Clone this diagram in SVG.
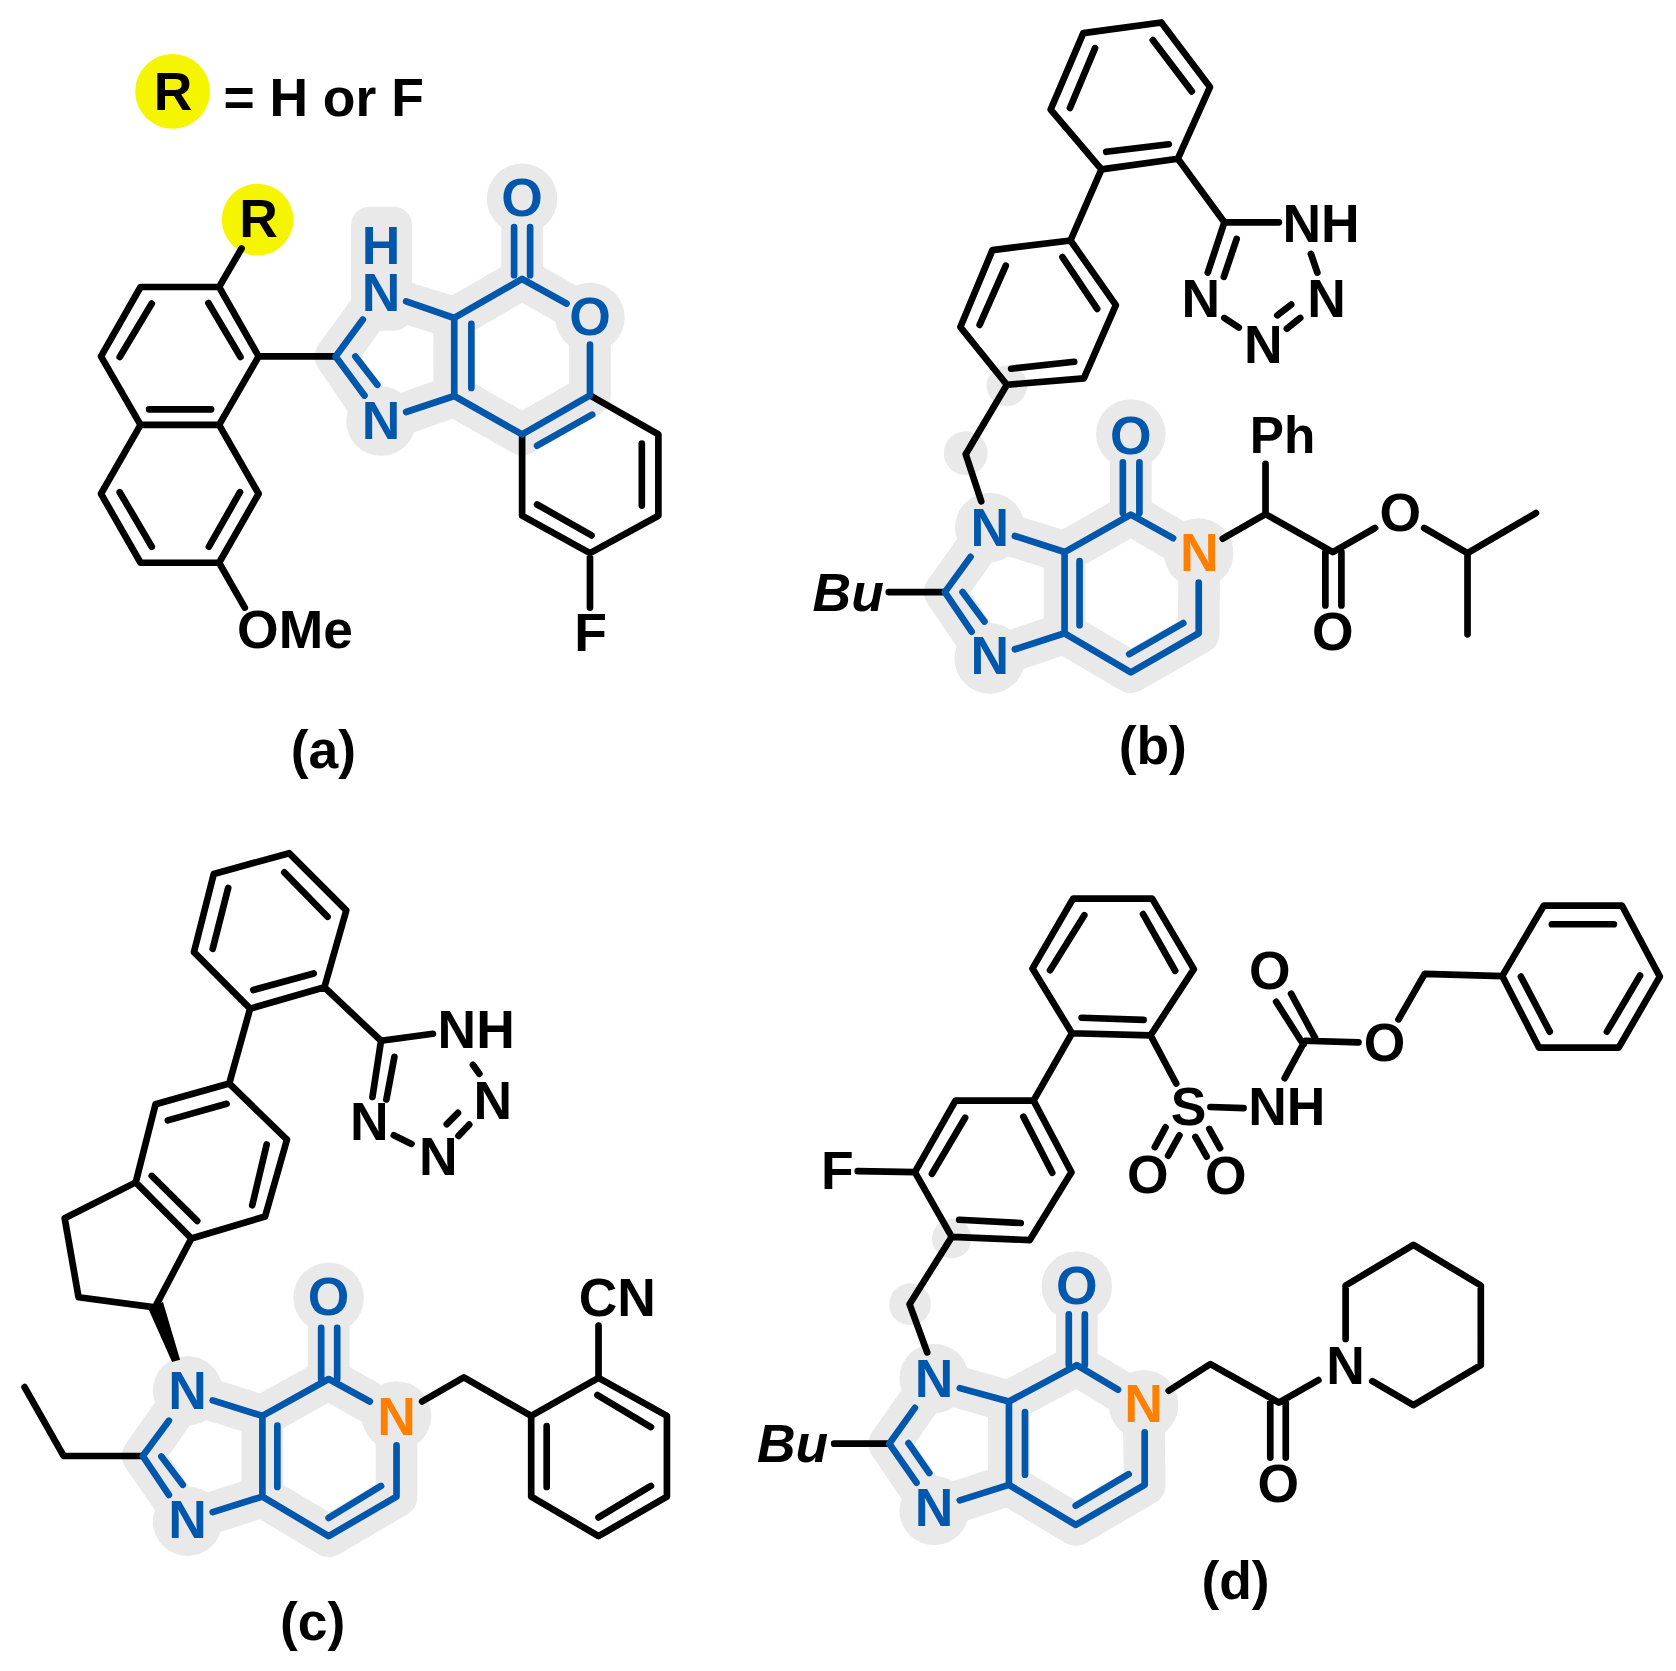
<svg xmlns="http://www.w3.org/2000/svg" width="1676" height="1671" viewBox="0 0 1676 1671">
<style>
.h{fill:none;stroke:#e9e9e9;stroke-width:78;stroke-linecap:round;stroke-linejoin:round}
.hc{fill:#e9e9e9}
.k,.u{fill:none;stroke-width:12.5;stroke-linecap:round;stroke-linejoin:round}
.k{stroke:#000}
.u{stroke:#0057ab}
text{font-family:"Liberation Sans",Arial,sans-serif;font-weight:700;font-size:100px;text-anchor:middle;fill:#000}
text.bl{fill:#0057ab}
text.or{fill:#ff8000}
text.it{font-style:italic}
</style>
<rect width="1676" height="1671" fill="#fff"/>

<g id="mol-a" transform="scale(0.5344)">
<g id="a-halo">
<path class="h" d="M628,667L712,552L850,595L977,522L1104,594L1104,740L977,813L850,741L712,790ZM850,595V741M977,372V522"/>
<circle class="hc" cx="977" cy="372" r="66"/><circle class="hc" cx="1104" cy="594" r="65"/><circle class="hc" cx="713" cy="788" r="65"/>
<rect class="hc" x="657" y="387" width="114" height="232" rx="34"/>
</g>
<circle cx="323" cy="171" r="70" fill="#f5f500"/><circle cx="482" cy="411" r="67" fill="#f5f500"/>
<g id="a-bonds">
<path class="k" d="M410,537L263,537L189,667L263,795L410,795L484,667ZM410,795L484,924L410,1053L263,1053L189,924L263,795M390,567L450,668M284,568L224,668M279,766H395M449,921L391,1023M284,1023L224,921M410,537L452,465M410,1053L458,1137M484,667H628M977,813V965L1104,1035L1232,965V813L1104,740M1005,944L1107,1002M1201,830V946M1104,1035V1137"/>
<path class="u" d="M679,598L628,667L682,740M665,667L706,720M760,564L850,595L850,741L760,771M882,606V726M850,595L977,522L1060,568M1104,645V740L977,813L850,741M1108,776L1005,834M962,425V515M992,425V515"/>
</g>
<text x="324" y="205">R</text>
<text x="418" y="217" style="text-anchor:start">= H or F</text>
<text x="484" y="444">R</text>
<text class="bl" x="713" y="494">H<tspan x="713" y="582">N</tspan></text><text class="bl" x="713" y="822">N</text>
<text class="bl" x="977" y="404">O</text><text class="bl" x="1104" y="627">O</text>
<text x="552" y="1213">OMe</text><text x="1105" y="1219">F</text>
<text x="605" y="1437">(a)</text>
</g>

<g id="mol-b" transform="translate(838,0) scale(0.5344)">
<g id="b-halo">
<path class="h" d="M200,1108L284,990L424,1033L548,963L676,1037L675,1185L548,1258L424,1185L284,1232ZM424,1033V1185M548,812V963"/>
<circle class="hc" cx="548" cy="812" r="65"/><circle class="hc" cx="284" cy="987" r="65"/><circle class="hc" cx="675" cy="1035" r="65"/><circle class="hc" cx="284" cy="1232" r="66"/>
<circle class="hc" cx="316" cy="722" r="38"/><circle class="hc" cx="239" cy="848" r="41"/>
</g>
<g id="b-bonds">
<path class="k" d="M459,62L605,42L696,163L636,297L493,317L398,205ZM481,90L434,202M589,75L662,171M619,270L502,284M493,317L435,450L289,468L229,612L316,720L460,708L520,571L435,450M314,497L265,608M420,481L485,578M442,677L324,690M636,297L723,416H825M723,416L692,510M746,447L722,518M723,595L750,613M822,590L848,570M840,615L865,595M885,475L897,510M316,720L239,850L268,938M95,1108H200M720,1008L800,962V868M800,962L926,1033L1005,988M1097,988L1178,1035L1306,960M1178,1035V1187M912,1033V1133M942,1033V1133"/>
<path class="u" d="M248,1042L200,1108L250,1182M233,1108L274,1163M331,1003L424,1033V1185L331,1215M452,1050V1170M424,1033L548,963L627,1007M424,1185L548,1258L675,1185V1090M545,1224L646,1166M533,865V960M564,865V960"/>
</g>
<text x="904" y="452">NH</text><text x="679" y="594">N</text><text x="796" y="680">N</text><text x="914" y="593">N</text>
<text x="832" y="847" style="font-size:96px">Ph</text>
<text class="bl" x="548" y="849">O</text><text class="bl" x="284" y="1022">N</text><text class="or" x="676" y="1069">N</text><text class="bl" x="284" y="1262">N</text>
<text x="1052" y="994">O</text><text x="926" y="1217">O</text>
<text class="it" x="19" y="1144">Bu</text>
<text x="589" y="1429">(b)</text>
</g>

<g id="mol-c" transform="translate(0,835) scale(0.5344)">
<g id="c-halo">
<path class="h" d="M267,1162L351,1043L491,1087L615,1018L742,1090L742,1238L615,1312L491,1238L351,1283ZM491,1087V1238M615,866V1018"/>
<circle class="hc" cx="615" cy="866" r="66"/><circle class="hc" cx="351" cy="1040" r="65"/><circle class="hc" cx="742" cy="1087" r="65"/><circle class="hc" cx="351" cy="1284" r="65"/>
</g>
<g id="c-bonds">
<path class="k" d="M400,73L541,34L648,141L607,285L468,325L363,219ZM427,99L398,213M532,70L613,153M587,259L474,290M468,325L429,465L291,504L254,650L358,755L496,714L537,570L429,465M424,503L314,534M499,579L472,693M369,722L284,638M254,650L121,717L147,865L290,884L358,755M607,285L713,385L810,372M713,385L697,490M738,415L723,495M737,562L770,578M836,541L857,520M858,563L878,542M885,430L897,447M46,1033L119,1162H267M790,1060L868,1015L994,1087M994,1087L1120,1016L1248,1087V1238L1120,1312L994,1238ZM1023,1106V1220M1118,1048L1218,1108M1218,1218L1120,1277M1120,1016V918"/>
<path d="M277,885L305,874L337,982L322,986Z" fill="#000"/>
<path class="u" d="M316,1096L267,1162L316,1235M302,1163L342,1216M398,1058L491,1087V1238L398,1267M519,1105V1220M491,1087L615,1018L692,1060M601,922V1018M631,922V1018M491,1238L615,1312L742,1238V1142M615,1278L713,1218"/>
</g>
<text x="891" y="399">NH</text><text x="691" y="570">N</text><text x="820" y="637">N</text><text x="922" y="531">N</text>
<text x="1155" y="900">CN</text>
<text class="bl" x="615" y="899">O</text><text class="bl" x="351" y="1075">N</text><text class="or" x="742" y="1122">N</text><text class="bl" x="351" y="1315">N</text>
<text x="585" y="1507">(c)</text>
</g>

<g id="mol-d" transform="translate(738,835) scale(0.5344)">
<g id="d-halo">
<path class="h" d="M283,1139L367,1020L507,1060L634,992L759,1068L761,1216L632,1291L507,1216L367,1262ZM507,1060V1216M634,845V992"/>
<circle class="hc" cx="634" cy="845" r="66"/><circle class="hc" cx="367" cy="1017" r="65"/><circle class="hc" cx="759" cy="1066" r="65"/><circle class="hc" cx="367" cy="1264" r="65"/>
<circle class="hc" cx="400" cy="755" r="37"/><circle class="hc" cx="322" cy="878" r="39"/>
</g>
<g id="d-bonds">
<path class="k" d="M627,119H775L853,251L772,375L625,371L551,250ZM648,150L584,253M758,148L818,254M759,346L643,342M625,371L553,497H407L331,631L400,752L546,758L624,631L553,497M425,529L363,634M534,527L588,632M529,726L414,720M224,629L331,631M400,752L321,878L354,968M180,1139H283M806,1040L884,990L1012,1062L1086,1020M996,1062V1165M1025,1062V1165M1137,943V843L1264,767L1390,843V992L1264,1067L1187,1022M772,375L820,465M884,509L946,511M800,547L780,584M826,562L805,600M856,565L877,602M882,550L902,586M1023,455L1061,385L1161,388M1007,312L1058,392M1035,297L1080,380M1236,345L1285,260L1430,264M1430,264L1508,132H1654L1725,265L1648,398H1499ZM1523,167H1639M1688,263L1626,368M1519,368L1465,265"/>
<path class="u" d="M331,1072L283,1139L334,1212M319,1138L358,1194M415,1035L507,1060V1216L415,1245M537,1080V1197M507,1060L634,992L711,1038M507,1216L632,1291L761,1216V1118M632,1255L731,1196M619,897V992M649,897V992"/>
</g>
<text x="186" y="662">F</text><text x="843" y="542">S</text><text x="1027" y="543">NH</text>
<text x="767" y="669">O</text><text x="913" y="672">O</text><text x="995" y="289">O</text><text x="1210" y="422">O</text>
<text class="bl" x="634" y="877">O</text><text class="bl" x="367" y="1052">N</text><text class="or" x="759" y="1099">N</text><text class="bl" x="367" y="1293">N</text>
<text x="1011" y="1249">O</text><text x="1137" y="1027">N</text>
<text class="it" x="102" y="1173">Bu</text>
<text x="931" y="1429">(d)</text>
</g>
</svg>
